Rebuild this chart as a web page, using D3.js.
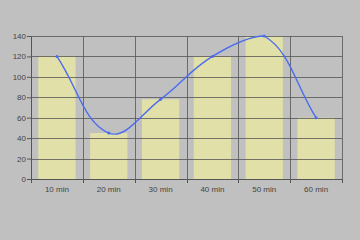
<!DOCTYPE html>
<style>
body { margin: 0; background: #c0c0c0; }
svg { display: block; }
</style>
<script src="https://d3js.org/d3.v7.min.js"></script>
<svg width="360" height="240"></svg>
<script>
var categories = ["10 min", "20 min", "30 min", "40 min", "50 min", "60 min"];
var barValues = [120, 45, 78, 120, 140, 60];
var lineValues = [120, 45, 78, 120, 140, 60];
var yTicks = [0, 20, 40, 60, 80, 100, 120, 140];

var svg = d3.select("svg"),
    margin = {top: 36, right: 18, bottom: 61, left: 31},
    width = +svg.attr("width") - margin.left - margin.right,
    height = +svg.attr("height") - margin.top - margin.bottom;

svg.append("rect").attr("width", 360).attr("height", 240).attr("fill", "#c0c0c0");

var g = svg.append("g").attr("transform", "translate(" + margin.left + "," + margin.top + ")");

var x = d3.scaleBand().domain(categories).range([0, width]).paddingInner(0.28).paddingOuter(0.14);
var xb = d3.scaleBand().domain(categories).range([0, width]);
var y = d3.scaleLinear().domain([0, 140]).range([height, 0]);

// bars
g.selectAll(".bar")
  .data(barValues)
  .enter().append("rect")
    .attr("x", function(d, i) { return x(categories[i]); })
    .attr("y", function(d) { return y(d); })
    .attr("width", x.bandwidth())
    .attr("height", function(d) { return height - y(d); })
    .attr("fill", "#e0e0a8");

// grid
g.selectAll(".hgrid")
  .data(yTicks)
  .enter().append("line")
    .attr("x1", 0).attr("x2", width)
    .attr("y1", function(d) { return Math.round(y(d)) + 0.5; })
    .attr("y2", function(d) { return Math.round(y(d)) + 0.5; })
    .attr("stroke", "#555").attr("stroke-width", 0.8);

g.selectAll(".vgrid")
  .data(categories.slice(1).concat(["end"]))
  .enter().append("line")
    .attr("x1", function(d, i) { return Math.round(i < 5 ? xb(d) : width) + 0.5; })
    .attr("x2", function(d, i) { return Math.round(i < 5 ? xb(d) : width) + 0.5; })
    .attr("y1", 0).attr("y2", height + 4)
    .attr("stroke", "#555").attr("stroke-width", 0.8);

// axes
var yAxis = g.append("g")
    .call(d3.axisLeft(y).tickValues(yTicks).tickSize(4).tickPadding(1));
var xAxis = g.append("g")
    .attr("transform", "translate(0," + height + ")")
    .call(d3.axisBottom(xb).tickSize(0).tickPadding(7));
xAxis.selectAll(".tick line").remove();
g.selectAll(".xtick")
  .data([0].concat(categories.map(function(c) { return xb(c) + xb.bandwidth(); })))
  .enter().append("line")
    .attr("x1", function(d) { return Math.round(d) + 0.5; })
    .attr("x2", function(d) { return Math.round(d) + 0.5; })
    .attr("y1", height).attr("y2", height + 4)
    .attr("stroke", "#555");

svg.selectAll(".domain").attr("stroke", "#555");
svg.selectAll(".tick line").attr("stroke", "#555");
svg.selectAll(".tick text")
    .attr("fill", "#444")
    .attr("font-family", "'Liberation Sans', Arial, sans-serif")
    .attr("font-size", 8);
yAxis.attr("font-family", null).attr("font-size", null);
xAxis.attr("font-family", null).attr("font-size", null);

// line: tension spline, control points kept inside the plot area
var pts = lineValues.map(function(d, i) {
  return [xb(categories[i]) + xb.bandwidth() / 2, y(d)];
});
var tension = 0.4;
function cap(v, lo, hi) { return Math.max(Math.min(v, hi), lo); }
var ctrl = pts.map(function(p, i) {
  var a = pts[i - 1] || p, b = pts[i + 1] || p;
  var d01 = Math.hypot(p[0] - a[0], p[1] - a[1]),
      d12 = Math.hypot(b[0] - p[0], b[1] - p[1]);
  var s01 = d01 / (d01 + d12), s12 = d12 / (d01 + d12);
  var fa = tension * s01, fb = tension * s12;
  return {
    prev: [cap(p[0] - fa * (b[0] - a[0]), 0, width), cap(p[1] - fa * (b[1] - a[1]), 0, height)],
    next: [cap(p[0] + fb * (b[0] - a[0]), 0, width), cap(p[1] + fb * (b[1] - a[1]), 0, height)]
  };
});
var path = d3.path();
path.moveTo(pts[0][0], pts[0][1]);
for (var i = 1; i < pts.length; i++) {
  path.bezierCurveTo(ctrl[i - 1].next[0], ctrl[i - 1].next[1],
                     ctrl[i].prev[0], ctrl[i].prev[1],
                     pts[i][0], pts[i][1]);
}

g.append("path")
    .attr("fill", "none")
    .attr("stroke", "#4a6cf0")
    .attr("stroke-width", 1.4)
    .attr("d", path.toString());

g.selectAll(".pt")
  .data(lineValues)
  .enter().append("circle")
    .attr("cx", function(d, i) { return xb(categories[i]) + xb.bandwidth() / 2; })
    .attr("cy", function(d) { return y(d); })
    .attr("r", 1.5)
    .attr("fill", "#4a6cf0");
</script>
